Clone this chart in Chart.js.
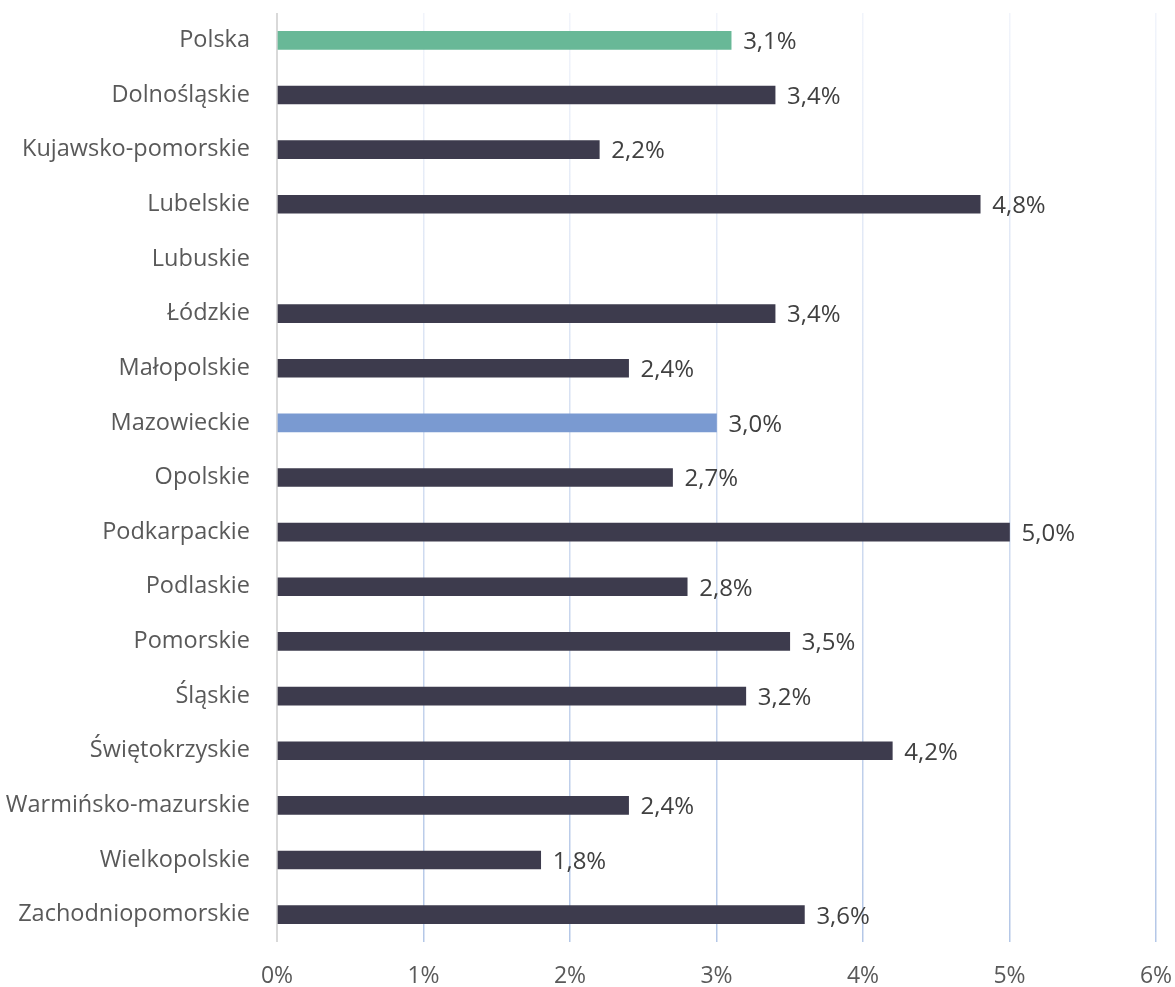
<!DOCTYPE html>
<html>
<head>
<meta charset="utf-8">
<script src="https://cdn.jsdelivr.net/npm/chart.js@4"></script>
<style>
  html, body { margin: 0; padding: 0; background: #fff; }
  #wrap { width: 1175px; height: 987px; }
</style>
</head>
<body>
<div id="wrap"><canvas id="myChart" width="1175" height="987"></canvas></div>
<script>
// Data
const regions = ['Polska', 'Dolnośląskie', 'Kujawsko-pomorskie', 'Lubelskie', 'Lubuskie', 'Łódzkie',
  'Małopolskie', 'Mazowieckie', 'Opolskie', 'Podkarpackie', 'Podlaskie', 'Pomorskie', 'Śląskie',
  'Świętokrzyskie', 'Warmińsko-mazurskie', 'Wielkopolskie', 'Zachodniopomorskie'];
const values = [3.1, 3.4, 2.2, 4.8, null, 3.4, 2.4, 3.0, 2.7, 5.0, 2.8, 3.5, 3.2, 4.2, 2.4, 1.8, 3.6];
const xTicks = [0, 1, 2, 3, 4, 5, 6];

const fontFamily = '"Open Sans", "DejaVu Sans", sans-serif';

// bar colours: Polska green, Mazowieckie blue, rest dark
const barColors = regions.map(r => {
  if (r === 'Polska') return '#68b897';
  if (r === 'Mazowieckie') return '#7a9ad1';
  return '#3d3b4d';
});

// grid gradient (light at top, blue at bottom)
let gridGradient = null;
function getGridColor(context) {
  if (context.index === 0) return '#d9d9d9';
  const chart = context.chart;
  const area = chart.chartArea;
  if (!area) return '#b4c7e7';
  if (!gridGradient) {
    gridGradient = chart.ctx.createLinearGradient(0, area.top, 0, area.bottom);
    gridGradient.addColorStop(0, '#f1f4fb');
    gridGradient.addColorStop(1, '#b4c7e7');
  }
  return gridGradient;
}

// value labels at the end of bars
const valueLabels = {
  id: 'valueLabels',
  afterDatasetsDraw(chart) {
    const ctx = chart.ctx;
    const meta = chart.getDatasetMeta(0);
    ctx.save();
    ctx.font = '24px ' + fontFamily;
    ctx.fillStyle = '#404040';
    ctx.textAlign = 'left';
    ctx.textBaseline = 'middle';
    meta.data.forEach((bar, i) => {
      const v = values[i];
      if (v === null) return;
      const txt = v.toFixed(1).replace('.', ',') + '%';
      ctx.fillText(txt, bar.x + 12, bar.y + 2);
    });
    ctx.restore();
  }
};

const ctx = document.getElementById('myChart').getContext('2d');
const myChart = new Chart(ctx, {
  type: 'bar',
  data: {
    labels: regions,
    datasets: [{
      data: values,
      backgroundColor: barColors,
      barThickness: 18,
      borderWidth: 0
    }]
  },
  options: {
    indexAxis: 'y',
    responsive: false,
    animation: false,
    layout: { padding: { top: 13, right: 19, left: 0, bottom: 0 } },
    plugins: {
      legend: { display: false },
      tooltip: { enabled: false }
    },
    scales: {
      x: {
        min: 0,
        max: 6,
        afterBuildTicks: scale => { scale.ticks = xTicks.map(v => ({ value: v })); },
        afterFit: scale => {
          scale.height = 45;
          scale.paddingLeft = 0;
          scale.paddingRight = 0;
        },
        ticks: {
          callback: v => v + '%',
          color: '#595959',
          font: { family: fontFamily, size: 23 },
          padding: 21
        },
        grid: {
          color: getGridColor,
          lineWidth: ctx => ctx.index === 0 ? 2 : 1.5,
          drawTicks: false
        },
        border: { display: false }
      },
      y: {
        afterFit: scale => {
          scale.width = 277;
          scale.paddingTop = 0;
          scale.paddingBottom = 0;
        },
        ticks: {
          color: '#595959',
          font: { family: fontFamily, size: 23.5 },
          padding: 27
        },
        grid: { display: false, drawTicks: false },
        border: { display: false }
      }
    }
  },
  plugins: [valueLabels]
});
</script>
</body>
</html>
